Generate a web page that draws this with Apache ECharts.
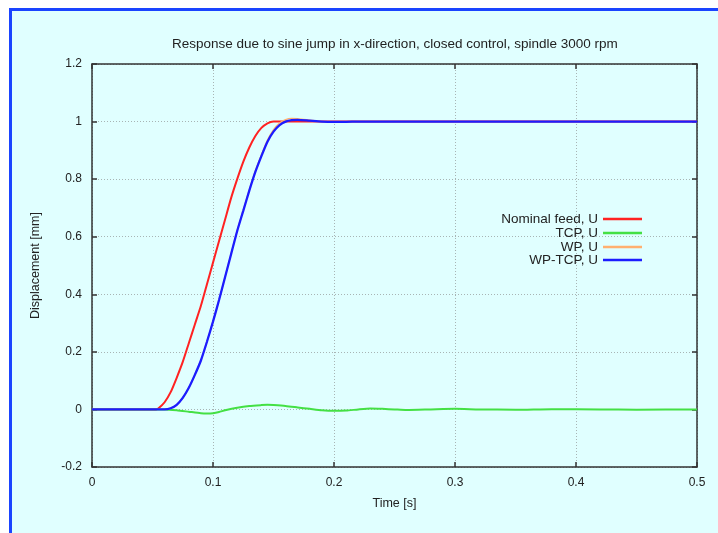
<!DOCTYPE html>
<html>
<head>
<meta charset="utf-8">
<script src="https://cdn.jsdelivr.net/npm/echarts@6/dist/echarts.min.js"></script>
<style>
html,body{margin:0;padding:0;background:#ffffff;width:718px;height:533px;overflow:hidden;}
#bg{position:absolute;left:9px;top:8px;right:0;bottom:0;background:#e0ffff;border-left:3px solid #1a44ff;border-top:3px solid #1a44ff;}
#chart{position:absolute;left:0;top:0;width:718px;height:533px;}
</style>
</head>
<body>
<div id="bg"></div>
<div id="chart"></div>
<script>
const titleText = 'Response due to sine jump in x-direction, closed control, spindle 3000 rpm';
const seriesNames = ['Nominal feed, U', 'TCP, U', 'WP, U', 'WP-TCP, U'];
const xTicks = [0, 0.1, 0.2, 0.3, 0.4, 0.5];
const yTicks = [-0.2, 0, 0.2, 0.4, 0.6, 0.8, 1, 1.2];

const tNominal = [0, 0.053, 0.055, 0.06, 0.065, 0.07, 0.075, 0.08, 0.085, 0.09, 0.095, 0.1, 0.105, 0.11, 0.115, 0.12, 0.125, 0.13, 0.135, 0.14, 0.145, 0.15, 0.2, 0.3, 0.4, 0.5];
const vNominal = [0, 0, 0.004, 0.025, 0.06, 0.11, 0.165, 0.23, 0.295, 0.36, 0.435, 0.51, 0.585, 0.66, 0.735, 0.80, 0.86, 0.91, 0.95, 0.978, 0.994, 1.0, 1.0, 1.0, 1.0, 1.0];

const tTCP = [0, 0.06, 0.07, 0.08, 0.09, 0.095, 0.1, 0.105, 0.11, 0.12, 0.13, 0.14, 0.145, 0.15, 0.16, 0.17, 0.18, 0.19, 0.2, 0.21, 0.22, 0.23, 0.24, 0.25, 0.26, 0.28, 0.3, 0.32, 0.35, 0.38, 0.42, 0.45, 0.5];
const vTCP = [0, 0, -0.003, -0.008, -0.013, -0.014, -0.013, -0.009, -0.003, 0.006, 0.012, 0.015, 0.016, 0.015, 0.012, 0.007, 0.002, -0.003, -0.005, -0.004, 0, 0.003, 0.002, 0, -0.002, 0, 0.002, 0, -0.001, 0.001, 0, -0.001, 0];

const tWP = [0, 0.06, 0.065, 0.07, 0.075, 0.08, 0.085, 0.09, 0.095, 0.1, 0.105, 0.11, 0.115, 0.12, 0.125, 0.13, 0.135, 0.14, 0.145, 0.15, 0.155, 0.16, 0.165, 0.17, 0.18, 0.19, 0.2, 0.21, 0.22, 0.25, 0.3, 0.4, 0.5];
const vWP = [0, 0, 0.004, 0.016, 0.04, 0.075, 0.12, 0.17, 0.236, 0.306, 0.381, 0.461, 0.542, 0.622, 0.693, 0.763, 0.829, 0.885, 0.936, 0.972, 0.995, 1.007, 1.011, 1.01, 1.005, 1.0, 0.997, 0.998, 1.001, 1.0, 1.0, 1.0, 1.0];

const tWPTCP = [0, 0.06, 0.065, 0.07, 0.075, 0.08, 0.085, 0.09, 0.095, 0.1, 0.105, 0.11, 0.115, 0.12, 0.125, 0.13, 0.135, 0.14, 0.145, 0.15, 0.155, 0.16, 0.165, 0.17, 0.18, 0.19, 0.2, 0.21, 0.22, 0.25, 0.3, 0.4, 0.5];
const vWPTCP = [0, 0, 0.004, 0.016, 0.04, 0.075, 0.12, 0.17, 0.235, 0.305, 0.38, 0.46, 0.54, 0.62, 0.69, 0.76, 0.825, 0.88, 0.93, 0.965, 0.988, 1.0, 1.005, 1.006, 1.003, 1.0, 0.999, 0.999, 1.0, 1.0, 1.0, 1.0, 1.0];

const colors = ['#ff2222', '#44e044', '#ffb070', '#1c1cff'];
const widths = [2, 2, 1.3, 2.3];
const legendRowTops = [212, 226, 240, 253];

function pairs(t, v) { return t.map((x, i) => [x, v[i]]); }
const seriesData = [pairs(tNominal, vNominal), pairs(tTCP, vTCP), pairs(tWP, vWP), pairs(tWPTCP, vWPTCP)];

const FONT = 'Liberation Sans, Arial, sans-serif';
const axisLineStyle = { color: '#333', width: 1.5 };
const xCommon = { type: 'value', min: xTicks[0], max: xTicks[xTicks.length - 1], interval: 0.1 };
const yCommon = { type: 'value', min: yTicks[0], max: yTicks[yTicks.length - 1], interval: 0.2 };

const chart = echarts.init(document.getElementById('chart'), null, { renderer: 'canvas' });
chart.setOption({
  backgroundColor: 'transparent',
  animation: false,
  title: {
    text: titleText, left: 172, top: 37, padding: 0,
    textStyle: { fontFamily: FONT, fontSize: 13.5, fontWeight: 'normal', color: '#222' }
  },
  legend: seriesNames.map((n, i) => ({
    data: [n], right: 76, top: legendRowTops[i], padding: 0, align: 'right', orient: 'vertical',
    icon: 'rect', itemWidth: 39, itemHeight: 2.5,
    textStyle: { fontFamily: FONT, fontSize: 13.5, color: '#222', lineHeight: 14 }
  })),
  grid: { left: 92, right: 21, top: 64, bottom: 66 },
  xAxis: [
    Object.assign({}, xCommon, {
      position: 'bottom', name: 'Time [s]', nameLocation: 'middle', nameGap: 30,
      nameTextStyle: { fontFamily: FONT, fontSize: 12.5, color: '#222' },
      axisLine: { show: true, onZero: false, lineStyle: axisLineStyle },
      axisTick: { show: true, inside: true, length: 5, lineStyle: axisLineStyle },
      axisLabel: { fontFamily: FONT, fontSize: 12, color: '#222', margin: 10 },
      splitLine: { show: true, lineStyle: { color: '#a8b4b4', type: [1, 2], width: 1 } }
    }),
    Object.assign({}, xCommon, {
      position: 'top',
      axisLine: { show: true, onZero: false, lineStyle: axisLineStyle },
      axisTick: { show: true, inside: true, length: 5, lineStyle: axisLineStyle },
      axisLabel: { show: false }, splitLine: { show: false }
    })
  ],
  yAxis: [
    Object.assign({}, yCommon, {
      position: 'left', name: 'Displacement [mm]', nameLocation: 'middle', nameGap: 50,
      nameTextStyle: { fontFamily: FONT, fontSize: 12.5, color: '#222' },
      axisLine: { show: true, onZero: false, lineStyle: axisLineStyle },
      axisTick: { show: true, inside: true, length: 5, lineStyle: axisLineStyle },
      axisLabel: { fontFamily: FONT, fontSize: 12, color: '#222', margin: 10 },
      splitLine: { show: true, lineStyle: { color: '#a8b4b4', type: [1, 2], width: 1 } }
    }),
    Object.assign({}, yCommon, {
      position: 'right',
      axisLine: { show: true, onZero: false, lineStyle: axisLineStyle },
      axisTick: { show: true, inside: true, length: 5, lineStyle: axisLineStyle },
      axisLabel: { show: false }, splitLine: { show: false }
    })
  ],
  series: seriesNames.map((n, i) => ({
    name: n, type: 'line', xAxisIndex: 0, yAxisIndex: 0,
    data: seriesData[i], showSymbol: false, symbol: 'none', smooth: 0.2,
    color: colors[i], lineStyle: { color: colors[i], width: widths[i] },
    z: 2 + i
  }))
});
</script>
</body>
</html>
